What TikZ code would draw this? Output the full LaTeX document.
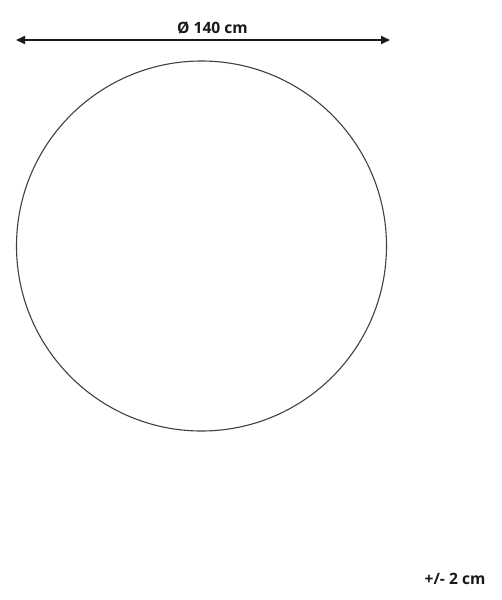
\documentclass[tikz,border=0pt]{standalone}
\usepackage{fontspec}
\setmainfont{Open Sans}
\usetikzlibrary{arrows.meta}
\tikzset{
  dimline/.style={line width=2pt, {Triangle[length=9pt,width=8pt]}-{Triangle[length=9pt,width=8pt]}, color=black!90},
  lbl/.style={font=\fontsize{15.6pt}{18pt}\selectfont\bfseries, text=black!90, inner sep=0pt},
  outline/.style={line width=1.1pt, color=black!75}
}
\begin{document}
\begin{tikzpicture}[x=1pt,y=-1pt]
\useasboundingbox[fill=white] (0,0) rectangle (501,600);
\coordinate (L) at (16,40);
\coordinate (R) at (390,40);
\draw[dimline] (L) -- (R);
\node[lbl] (dia) at (212.5,28) {Ø 140 cm};
\node[outline, draw, circle, minimum size=370pt, inner sep=0pt] (rug) at (201.5,246) {};
\node[lbl] (tol) at (455,579) {+/- 2 cm};
\end{tikzpicture}
\end{document}
